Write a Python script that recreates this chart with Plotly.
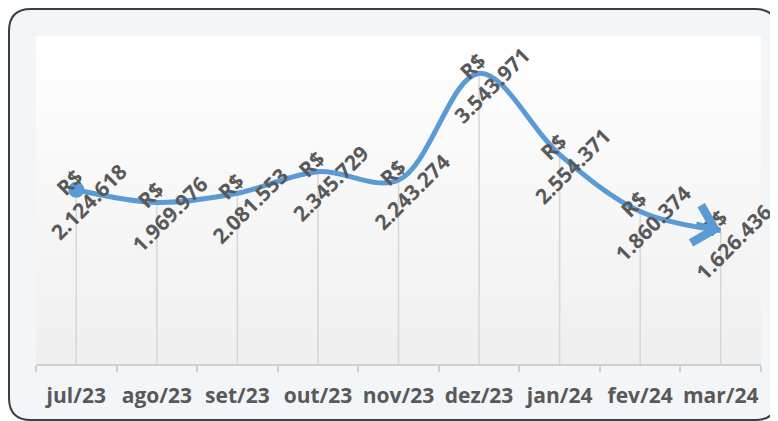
import base64
import plotly.graph_objects as go

months = ["jul/23", "ago/23", "set/23", "out/23", "nov/23", "dez/23", "jan/24", "fev/24", "mar/24"]
values = [2124618, 1969976, 2081553, 2345729, 2243274, 3543971, 2554371, 1860374, 1626436]
labels = ["R$<br>" + f"{v:,}".replace(",", ".") for v in values]

LINE = "#5b9bd5"
TXT = "#595959"
FONT = "Open Sans"

fig = go.Figure()

# drop lines
fig.add_trace(go.Scatter(
    x=months, y=values, mode="markers", marker=dict(size=1, opacity=0),
    error_y=dict(type="data", symmetric=False, array=[0] * len(values),
                 arrayminus=values, width=0, color="#d6d6d6", thickness=1.5),
    hoverinfo="skip", showlegend=False))

fig.add_trace(go.Scatter(
    x=months, y=values, mode="lines", line=dict(color=LINE, width=5, shape="spline", smoothing=1),
    showlegend=False))

# start marker
fig.add_trace(go.Scatter(
    x=months[:1], y=values[:1], mode="markers",
    marker=dict(color=LINE, size=16), showlegend=False))

for m, v, t in zip(months, values, labels):
    fig.add_annotation(x=m, y=v, text=t, showarrow=False, textangle=-45,
                       font=dict(family=FONT, size=21, color=TXT, weight="bold"),
                       xshift=3, yshift=-2)

# end arrow
fig.add_annotation(x=months[-1], y=values[-1], text="", showarrow=True,
                   ax=-26, ay=-7, arrowhead=4, arrowsize=1.5, arrowwidth=5,
                   arrowcolor=LINE, standoff=0)

# geometry (page has an 8px body offset)
L, R, T, B = 28, 17, 28, 57
W, H = 770, 413
pw, ph = W - L - R, H - T - B
def px(xp): return (xp - L) / pw
def py(yp): return (H - B - yp) / ph
x0, x1, y0, y1 = px(1), px(769), py(412), py(1)
rx, ry = 22 / pw, 22 / ph
rr = (f"M {x0+rx},{y1} L {x1-rx},{y1} Q {x1},{y1} {x1},{y1-ry} L {x1},{y0+ry} "
      f"Q {x1},{y0} {x1-rx},{y0} L {x0+rx},{y0} Q {x0},{y0} {x0},{y0+ry} "
      f"L {x0},{y1-ry} Q {x0},{y1} {x0+rx},{y1} Z")
ox0, ox1, oy0, oy1 = px(-5), px(W + 5), py(H + 5), py(-5)
outer = f"M {ox0},{oy0} L {ox1},{oy0} L {ox1},{oy1} L {ox0},{oy1} Z "
fig.add_shape(type="path", path=outer + rr, xref="paper", yref="paper", layer="below",
              fillrule="evenodd", fillcolor="white", line=dict(width=0))
fig.add_shape(type="path", path=rr, xref="paper", yref="paper", layer="below",
              line=dict(color="#3a3f44", width=2), fillcolor="rgba(0,0,0,0)")

# plot-area gradient background
svg = ('<svg xmlns="http://www.w3.org/2000/svg" width="100" height="100" viewBox="0 0 100 100" '
       'preserveAspectRatio="none"><defs><linearGradient id="g" x1="0" y1="0" x2="0" y2="1">'
       '<stop offset="0" stop-color="#ffffff"/><stop offset="1" stop-color="#efefef"/>'
       '</linearGradient></defs><rect width="100" height="100" fill="url(#g)"/></svg>')
src = "data:image/svg+xml;base64," + base64.b64encode(svg.encode()).decode()
fig.add_layout_image(source=src, xref="paper", yref="paper", x=0, y=1, sizex=1, sizey=1,
                     xanchor="left", yanchor="top", sizing="stretch", layer="below")

fig.update_xaxes(type="category", range=[-0.5, len(months) - 0.5], showgrid=False,
                 showline=True, linecolor="#d0d0d0", linewidth=1.5,
                 ticks="outside", tickson="boundaries", ticklen=6, tickcolor="#d0d0d0",
                 tickwidth=1.5, ticklabelstandoff=12, tickangle=0, automargin=False,
                 tickfont=dict(family=FONT, size=21, color=TXT, weight="bold"))
fig.update_yaxes(range=[0, 4000000], showgrid=False, showticklabels=False,
                 zeroline=False, showline=False, automargin=False)

fig.update_layout(width=W, height=H, margin=dict(l=L, r=R, t=T, b=B),
                  paper_bgcolor="#f3f6f9", plot_bgcolor="rgba(0,0,0,0)", showlegend=False)

fig.write_html("out.html")
